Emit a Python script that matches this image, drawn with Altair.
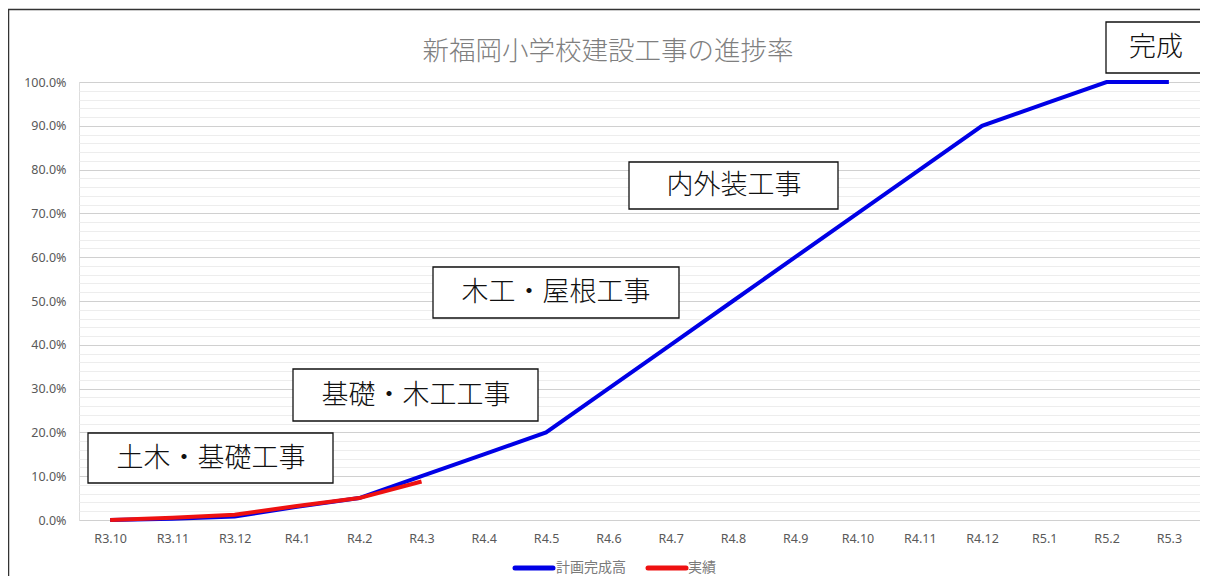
import altair as alt
import pandas as pd

# ---- data ----
months = ["R3.10", "R3.11", "R3.12", "R4.1", "R4.2", "R4.3", "R4.4", "R4.5", "R4.6",
          "R4.7", "R4.8", "R4.9", "R4.10", "R4.11", "R4.12", "R5.1", "R5.2", "R5.3"]
plan = [0.0, 0.003, 0.008, 0.03, 0.05, 0.10, 0.15, 0.20, 0.30,
        0.40, 0.50, 0.60, 0.70, 0.80, 0.90, 0.95, 1.00, 1.00]
actual = [0.0, 0.005, 0.012, 0.032, 0.05, 0.088]
series_names = ["計画完成高", "実績"]
series_colors = ["#0000e6", "#ee1111"]
title_text = "新福岡小学校建設工事の進捗率"
notes = ["土木・基礎工事", "基礎・木工工事", "木工・屋根工事", "内外装工事", "完成"]

# ---- layout (pixel positions in plot coordinates) ----
note_boxes = [  # x, x2, y, y2, text_x, text_y
    (9, 254, 351, 401, 132, 377),
    (214, 459, 287, 339, 337, 314),
    (354, 600, 185, 236, 477, 211),
    (550, 759, 80, 127, 655, 104),
    (1027, 1300, -60, -9, 1077, -34),
]
legend_items = [  # symbol x, x2, label x
    (436, 474, 477),
    (569, 607, 609),
]
LEGEND_Y = 486

W, H = 1121, 438
FONT = "Noto Sans CJK JP"
AXIS_FONT = "Noto Sans"

df_plan = pd.DataFrame({"month": months, "value": plan, "series": series_names[0]})
df_act = pd.DataFrame({"month": months[:len(actual)], "value": actual, "series": series_names[1]})

x_enc = alt.X("month:N", sort=months,
              scale=alt.Scale(type="point", padding=0.5),
              axis=alt.Axis(title=None, labelAngle=0, ticks=False, domain=False, grid=False,
                            labelPadding=12, labelColor="#595959", labelFont=AXIS_FONT,
                            labelFontSize=12.5))
grid_vals = [round(i * 0.02, 2) for i in range(51)]
y_enc = alt.Y("value:Q",
              scale=alt.Scale(domain=[0, 1], nice=False),
              axis=alt.Axis(title=None, values=grid_vals, ticks=False, domain=False,
                            labelExpr="round(datum.value*100) % 10 == 0 ? format(datum.value, '.1%') : ''",
                            labelPadding=13, labelColor="#595959", labelFont=AXIS_FONT,
                            labelFontSize=12.5,
                            gridColor={"condition": {"test": "round(datum.value*100) % 10 == 0",
                                                     "value": "#d0d0d0"},
                                       "value": "#ededed"},
                            gridWidth=1))
color_enc = alt.Color("series:N",
                      scale=alt.Scale(domain=series_names, range=series_colors),
                      legend=None)

line_plan = alt.Chart(df_plan).mark_line(strokeWidth=4).encode(x=x_enc, y=y_enc, color=color_enc)
line_act = alt.Chart(df_act).mark_line(strokeWidth=4).encode(x=x_enc, y=y_enc, color=color_enc)

one = pd.DataFrame({"k": [0]})
border = alt.Chart(one).mark_rect(filled=False, stroke="#333333", strokeWidth=1.5).encode(
    x=alt.value(-70.5), x2=alt.value(1300), y=alt.value(-72.5), y2=alt.value(700))

title = alt.Chart(one).mark_text(font=FONT, fontSize=26.5, fontWeight=300, color="#7f7f7f",
                                 align="center", baseline="middle").encode(
    x=alt.value(529), y=alt.value(-30), text=alt.value(title_text))

layers = [border, title, line_plan, line_act]

for name, col, (sx, sx2, lx) in zip(series_names, series_colors, legend_items):
    sym = alt.Chart(one).mark_rule(color=col, strokeWidth=5, strokeCap="round").encode(
        x=alt.value(sx), x2=alt.value(sx2), y=alt.value(LEGEND_Y))
    lab = alt.Chart(one).mark_text(font=FONT, fontSize=14, color="#7a7a7a",
                                   align="left", baseline="middle").encode(
        x=alt.value(lx), y=alt.value(LEGEND_Y), text=alt.value(name))
    layers += [sym, lab]

for txt, (bx, bx2, by, by2, tx, ty) in zip(notes, note_boxes):
    box = alt.Chart(one).mark_rect(fill="white", stroke="#111111", strokeWidth=1.3).encode(
        x=alt.value(bx), x2=alt.value(bx2), y=alt.value(by), y2=alt.value(by2))
    label = alt.Chart(one).mark_text(font=FONT, fontSize=27, fontWeight=300, color="#111111",
                                     align="center", baseline="middle").encode(
        x=alt.value(tx), y=alt.value(ty), text=alt.value(txt))
    layers += [box, label]

chart = alt.layer(*layers).properties(
    width=W, height=H,
    autosize=alt.AutoSizeParams(type="none"),
    padding={"left": 71, "top": 74, "right": 0, "bottom": 56},
).configure_view(stroke=None).configure(background="white")

chart.save("out.html", embed_options={"renderer": "svg", "actions": False})
